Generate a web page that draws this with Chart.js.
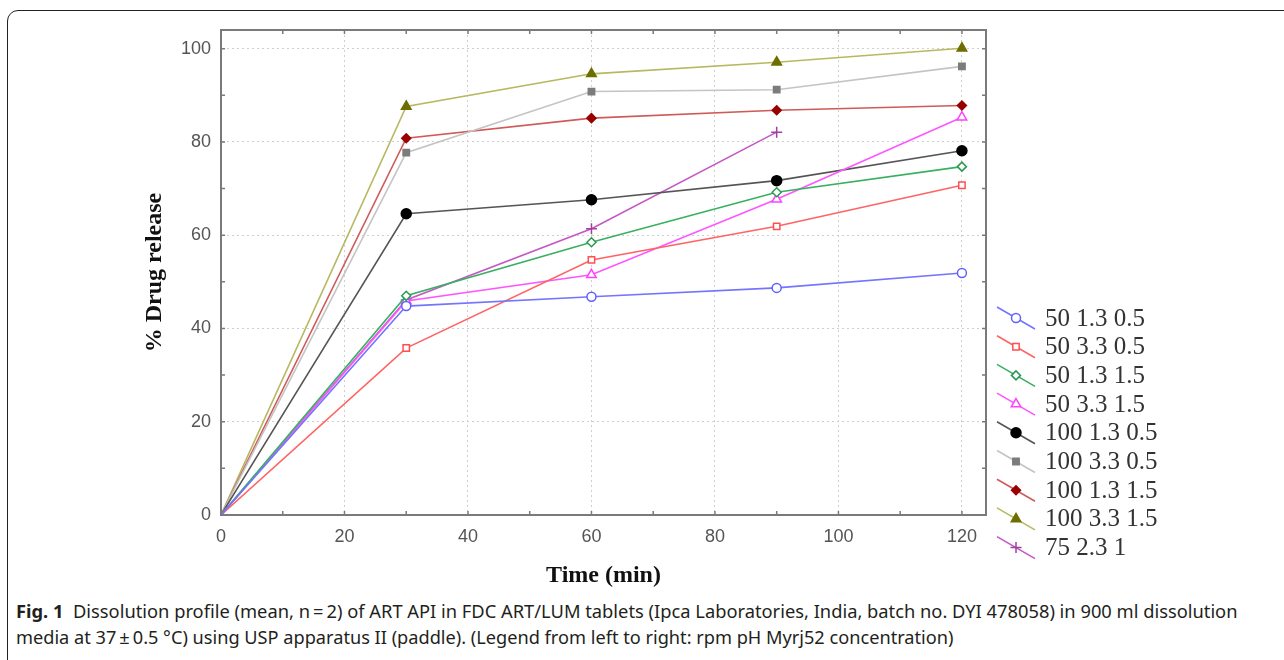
<!DOCTYPE html>
<html>
<head>
<meta charset="utf-8">
<script src="https://cdn.jsdelivr.net/npm/chart.js@4"></script>
<style>
  body { margin: 0; background: #fff; width: 1284px; height: 660px; overflow: hidden; position: relative; }
  #frame { position: absolute; left: 7px; top: 10px; width: 1320px; height: 700px; border: 1px solid #222; border-radius: 11px; }
  #wrap { position: absolute; left: 0; top: 0; width: 1284px; height: 590px; }
  .cap { position: absolute; left: 16px; white-space: nowrap; font-family: "Liberation Sans Narrow", "Noto Sans", sans-serif; font-size: 18px; line-height: 22px; color: #231f20; transform-origin: 0 50%; }
</style>
</head>
<body>
<div id="frame"></div>
<div id="wrap"><canvas id="myChart"></canvas></div>
<div class="cap" id="cap1" data-w="1221"><b>Fig. 1</b>&nbsp; Dissolution profile (mean, n&#8201;=&#8201;2) of ART API in FDC ART/LUM tablets (Ipca Laboratories, India, batch no. DYI 478058) in 900 ml dissolution</div>
<div class="cap" id="cap2" data-w="937">media at 37&#8201;&plusmn;&#8201;0.5 &deg;C) using USP apparatus II (paddle). (Legend from left to right: rpm pH Myrj52 concentration)</div>
<script>
// time points (min)
var times = [0, 30, 60, 90, 120];
var labels = ['50 1.3 0.5', '50 3.3 0.5', '50 1.3 1.5', '50 3.3 1.5', '100 1.3 0.5',
              '100 3.3 0.5', '100 1.3 1.5', '100 3.3 1.5', '75 2.3 1'];
// % drug release
var s50_13_05 = [0, 44.8, 46.8, 48.7, 51.9];
var s50_33_05 = [0, 35.8, 54.7, 61.9, 70.7];
var s50_13_15 = [0, 47.0, 58.5, 69.2, 74.7];
var s50_33_15 = [0, 45.9, 51.5, 67.7, 85.3];
var s100_13_05 = [0, 64.6, 67.6, 71.7, 78.1];
var s100_33_05 = [0, 77.7, 90.8, 91.2, 96.2];
var s100_13_15 = [0, 80.8, 85.1, 86.8, 87.8];
var s100_33_15 = [0, 87.6, 94.6, 97.1, 100.1];
var s75_23_1 = [0, 46.1, 61.4, 82.1, null];
var yTicks = [0, 20, 40, 60, 80, 100];
var xTicks = [0, 20, 40, 60, 80, 100, 120];

var allValues = [s50_13_05, s50_33_05, s50_13_15, s50_33_15, s100_13_05, s100_33_05, s100_13_15, s100_33_15, s75_23_1];
var lineColors = ['#7474ff', '#ff6464', '#38b060', '#ff55ff', '#555555', '#c4c4c4', '#d05a5a', '#b8b860', '#c458c4'];
var markColors = ['#6060ff', '#ff5050', '#2a9a50', '#ff40ff', '#000000', '#7c7c7c', '#990000', '#6e6e00', '#a040a0'];
var markFill = ['#fff', '#fff', '#fff', '#fff', '#000000', '#7c7c7c', '#990000', '#6e6e00', '#a040a0'];
var markStyle = ['circle', 'rect', 'rectRot', 'triangle', 'circle', 'rect', 'rectRot', 'triangle', 'cross'];
var markSize = [4.5, 4.5, 4.5, 5.5, 5, 4.5, 4.5, 5.5, 5.5];

var datasets = allValues.map(function (vals, i) {
  return {
    label: labels[i],
    data: times.map(function (t, j) { return { x: t, y: vals[j] }; }),
    borderColor: lineColors[i],
    backgroundColor: markFill[i],
    pointBorderColor: markColors[i],
    pointBackgroundColor: markFill[i],
    pointStyle: markStyle[i],
    pointRadius: times.map(function (t) { return t === 0 ? 0 : markSize[i]; }),
    pointBorderWidth: 1.5,
    borderWidth: 1.6,
    tension: 0,
    fill: false,
    spanGaps: false
  };
});

// frame, inward tick marks, legend
var decor = {
  id: 'decor',
  afterDatasetsDraw: function (chart) {
    var c = chart.ctx, a = chart.chartArea, xs = chart.scales.x, ys = chart.scales.y;
    c.save();
    c.setLineDash([]);
    c.strokeStyle = '#7a7a7a';
    c.lineWidth = 2;
    c.strokeRect(a.left, a.top, a.right - a.left, a.bottom - a.top);
    c.lineWidth = 1.5;
    c.beginPath();
    for (var v = 10; v <= 120; v += 10) {
      var px = xs.getPixelForValue(v);
      c.moveTo(px, a.bottom); c.lineTo(px, a.bottom - 4);
      c.moveTo(px, a.top); c.lineTo(px, a.top + 4);
    }
    for (var w = 10; w <= 100; w += 10) {
      var py = ys.getPixelForValue(w);
      c.moveTo(a.left, py); c.lineTo(a.left + 4, py);
      c.moveTo(a.right, py); c.lineTo(a.right - 4, py);
    }
    c.stroke();
    // legend
    c.font = '25px "Liberation Serif", serif';
    c.textBaseline = 'middle';
    chart.data.datasets.forEach(function (ds, i) {
      var cy = 318 + i * 28.7, cx = 1016;
      c.strokeStyle = ds.borderColor;
      c.lineWidth = 1.6;
      c.beginPath();
      c.moveTo(cx - 19, cy - 11); c.lineTo(cx + 19, cy + 11);
      c.stroke();
      c.strokeStyle = markColors[i];
      c.fillStyle = markFill[i];
      c.lineWidth = 1.5;
      if (Chart.helpers && Chart.helpers.drawPoint) {
        Chart.helpers.drawPoint(c, { pointStyle: markStyle[i], radius: markSize[i], rotation: 0, borderWidth: 1.5 }, cx, cy);
      }
      c.fillStyle = '#333';
      c.fillText(ds.label, 1045, cy + 1);
    });
    c.restore();
  }
};

var gridColor = function (c) { return c.tick && c.tick.value > 0 ? '#cfcfcf' : 'rgba(0,0,0,0)'; };

var ctx = document.getElementById('myChart').getContext('2d');
var myChart = new Chart(ctx, {
  type: 'line',
  data: { datasets: datasets },
  plugins: [decor],
  options: {
    responsive: true,
    maintainAspectRatio: false,
    animation: false,
    layout: { padding: { left: 140, top: 30, right: 298, bottom: 0 } },
    plugins: { legend: { display: false }, tooltip: { enabled: false } },
    scales: {
      x: {
        type: 'linear', min: 0, max: 123.9,
        afterFit: function (s) { s.height = 75; },
        afterBuildTicks: function (s) { s.ticks = xTicks.map(function (v) { return { value: v }; }); },
        border: { color: '#7a7a7a', width: 2, dash: [2, 3] },
        grid: { drawTicks: false, color: gridColor, lineWidth: 1 },
        ticks: { padding: 11, color: '#555', font: { family: 'Liberation Sans', size: 18 }, maxRotation: 0 },
        title: { display: true, text: 'Time (min)', color: '#111', padding: 0,
                 font: { family: 'Liberation Serif', size: 24, weight: 'bold' } }
      },
      y: {
        min: 0, max: 104,
        afterFit: function (s) { s.width = 81; },
        afterBuildTicks: function (s) { s.ticks = yTicks.map(function (v) { return { value: v }; }); },
        border: { color: '#7a7a7a', width: 2, dash: [2, 3] },
        grid: { drawTicks: false, color: gridColor, lineWidth: 1 },
        ticks: { padding: 10, color: '#555', font: { family: 'Liberation Sans', size: 18 } },
        title: { display: true, text: '% Drug release', color: '#111', padding: 0,
                 font: { family: 'Liberation Serif', size: 24, weight: 'bold' } }
      }
    }
  }
});

// squeeze caption lines to the printed width
['cap1', 'cap2'].forEach(function (id) {
  var el = document.getElementById(id);
  var target = +el.getAttribute('data-w');
  el.style.transform = 'scaleX(' + (target / el.scrollWidth) + ')';
});
document.getElementById('cap1').style.top = '600px';
document.getElementById('cap2').style.top = '626px';
</script>
</body>
</html>
